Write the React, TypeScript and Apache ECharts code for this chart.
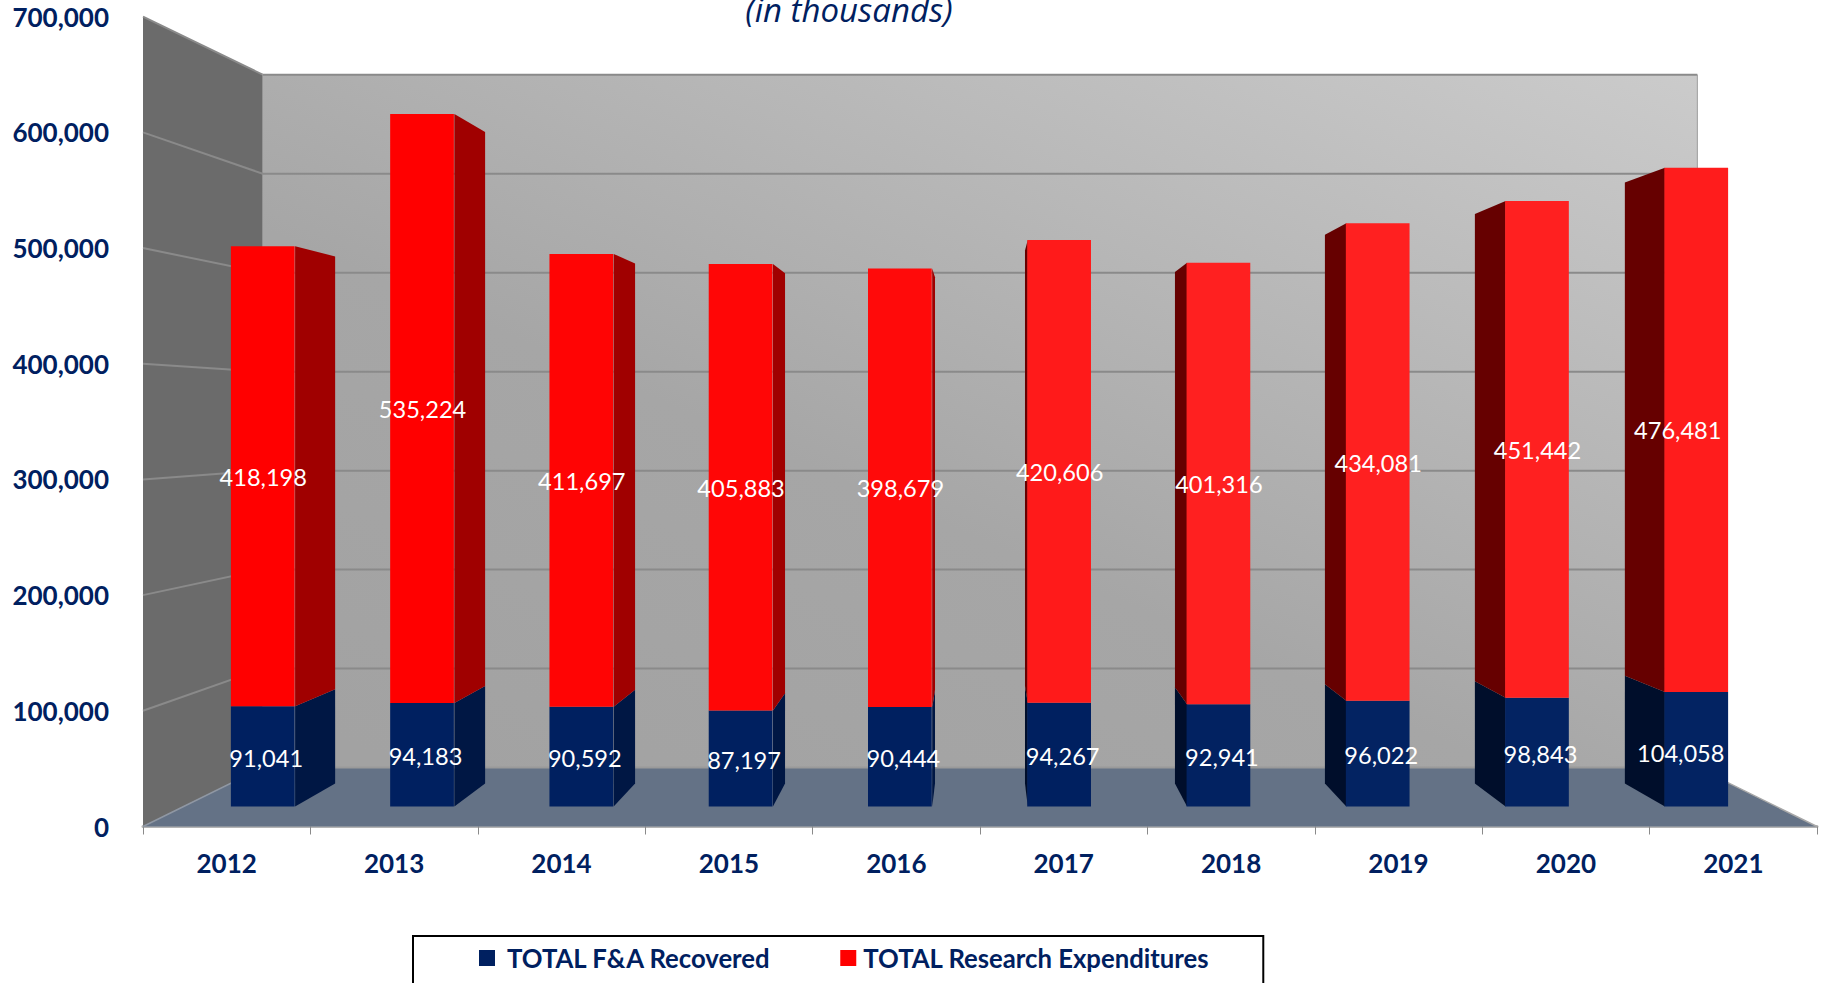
import React, { useEffect, useRef } from "react";
import * as echarts from "echarts";

const years = ["2012", "2013", "2014", "2015", "2016", "2017", "2018", "2019", "2020", "2021"];
const recovered = [91041, 94183, 90592, 87197, 90444, 94267, 92941, 96022, 98843, 104058];
const expenditures = [418198, 535224, 411697, 405883, 398679, 420606, 401316, 434081, 451442, 476481];
const valueTicks = [100000, 200000, 300000, 400000, 500000, 600000, 700000];
const recoveredName = "TOTAL F&A Recovered";
const expendituresName = "TOTAL Research Expenditures";

const NAVY = "#002060";
const RED = "#ff0000";
const FONT = "Lato, 'Open Sans', sans-serif";

// Perspective of the 3D box: a point of the front plane is pulled to the vanishing point by a scale.
const VANISH_X = 980;
const VANISH_Y = 418.4;
const BACK_SCALE = 0.8556;
const BAR_FRONT_SCALE = 0.951;
const BAR_BACK_SCALE = 0.8948;
const X_SCALE_FACTOR = 0.99;
const BAR_WIDTH_RATIO = 0.4;

const project = (x: number, y: number, s: number) => [
  VANISH_X + (x - VANISH_X) * (1 - (1 - s) * X_SCALE_FACTOR),
  VANISH_Y + (y - VANISH_Y) * s,
];

function renderWalls(params: any, api: any) {
  const c = params.coordSys;
  const yAt = (v: number) => api.coord([0, v])[1];
  const left = c.x;
  const right = c.x + c.width;
  const top = yAt(700000);
  const base = yAt(0);
  const children: any[] = [];
  const line = (a: number[], b: number[], stroke: string, lineWidth: number) => ({
    type: "line",
    shape: { x1: a[0], y1: a[1], x2: b[0], y2: b[1] },
    style: { stroke, lineWidth },
  });
  children.push({
    type: "polygon",
    shape: { points: [project(left, top, BACK_SCALE), project(right, top, BACK_SCALE), project(right, base, BACK_SCALE), project(left, base, BACK_SCALE)] },
    style: {
      fill: new echarts.graphic.LinearGradient(1, 0, 0.1, 1, [
        { offset: 0, color: "#cbcbcb" },
        { offset: 0.62, color: "#a6a6a6" },
        { offset: 1, color: "#a2a2a2" },
      ]),
    },
  });
  children.push({
    type: "polygon",
    shape: { points: [[left, top], project(left, top, BACK_SCALE), project(left, base, BACK_SCALE), [left, base]] },
    style: { fill: "#6b6b6b" },
  });
  children.push({
    type: "polygon",
    shape: { points: [[left, base], project(left, base, BACK_SCALE), project(right, base, BACK_SCALE), [right, base]] },
    style: { fill: "#647286" },
  });
  for (const v of valueTicks) {
    const y = yAt(v);
    children.push(line([left, y], project(left, y, BACK_SCALE), "#8a8a8a", 2));
    children.push(line(project(left, y, BACK_SCALE), project(right, y, BACK_SCALE), "#8a8a8a", 2));
  }
  children.push(line(project(left, base, BACK_SCALE), project(right, base, BACK_SCALE), "#9a9a9a", 2));
  children.push(line([left, base], project(left, base, BACK_SCALE), "#8f97a3", 1.5));
  children.push(line([right, base], project(right, base, BACK_SCALE), "#a8a8a8", 1.5));
  children.push(line(project(right, top, BACK_SCALE), project(right, base, BACK_SCALE), "#9c9c9c", 1));
  return { type: "group", children };
}

const makeBarRenderer =
  (front: (i: number) => string, sideRight: string, sideLeft: string, nudgeX: number, nudgeY: (i: number) => number) =>
  (params: any, api: any) => {
    const i = api.value(0);
    const from = api.value(1);
    const to = api.value(2);
    const center = api.coord([i, to])[0];
    const half = (api.size([1, 0])[0] * BAR_WIDTH_RATIO) / 2;
    const yFrom = api.coord([i, from])[1];
    const yTo = api.coord([i, to])[1];
    const xl = center - half;
    const xr = center + half;
    const children: any[] = [];
    const sideX = xr < VANISH_X ? xr : xl;
    children.push({
      type: "polygon",
      shape: {
        points: [
          project(sideX, yTo, BAR_FRONT_SCALE),
          project(sideX, yTo, BAR_BACK_SCALE),
          project(sideX, yFrom, BAR_BACK_SCALE),
          project(sideX, yFrom, BAR_FRONT_SCALE),
        ],
      },
      style: { fill: xr < VANISH_X ? sideRight : sideLeft },
    });
    const tl = project(xl, yTo, BAR_FRONT_SCALE);
    const br = project(xr, yFrom, BAR_FRONT_SCALE);
    children.push({
      type: "rect",
      shape: { x: tl[0] - 0.5, y: tl[1], width: br[0] - tl[0], height: br[1] - tl[1] },
      style: { fill: front(i) },
    });
    const shift = i === years.length - 1 ? -19 : 0;
    children.push({
      type: "text",
      x: (tl[0] + br[0]) / 2 + shift + nudgeX,
      y: (tl[1] + br[1]) / 2 + nudgeY(i),
      style: {
        text: (to - from).toLocaleString("en-US"),
        fill: "#ffffff",
        font: `400 23.6px ${FONT}`,
        align: "center",
        verticalAlign: "middle",
      },
    });
    return { type: "group", children };
  };

const redFront = (i: number) => ["#ff0000", "#ff0000", "#ff0404", "#ff0606", "#ff0a0a", "#ff1a1a", "#ff2020", "#ff2020", "#ff2020", "#ff1c1c"][i];
const navyFront = (i: number) => ["#002060", "#002060", "#002060", "#002060", "#002060", "#002060", "#022261", "#032362", "#032362", "#032362"][i];

export default function App() {
  const ref = useRef<HTMLDivElement>(null);
  useEffect(() => {
    document.body.style.margin = "0";
    const chart = echarts.init(ref.current!, undefined, { renderer: "svg" });
    chart.setOption({
      animation: false,
      backgroundColor: "#ffffff",
      title: {
        text: "(in thousands)",
        left: 844,
        textAlign: "center",
        top: -12,
        textStyle: { color: NAVY, fontFamily: "'Open Sans', sans-serif", fontStyle: "italic", fontWeight: 400, fontSize: 33 },
      },
      grid: { left: 143, right: 9, top: 16.7, bottom: 156.5, containLabel: false },
      xAxis: {
        type: "category",
        data: years,
        boundaryGap: true,
        axisLine: { show: true, lineStyle: { color: "#b4b4b4", width: 3 } },
        axisTick: { show: true, length: 8, alignWithLabel: false, lineStyle: { color: "#8a8a8a", width: 1 } },
        axisLabel: { color: NAVY, fontFamily: FONT, fontWeight: 700, fontSize: 26, margin: 23, interval: 0 },
        splitLine: { show: false },
      },
      yAxis: {
        type: "value",
        min: 0,
        max: 700000,
        interval: 100000,
        axisLine: { show: false },
        axisTick: { show: false },
        splitLine: { show: false },
        axisLabel: {
          color: NAVY,
          fontFamily: FONT,
          fontWeight: 700,
          fontSize: 26,
          margin: 34,
          formatter: (v: number) => v.toLocaleString("en-US"),
        },
      },
      legend: {
        show: true,
        left: 413,
        top: 936,
        orient: "horizontal",
        icon: "rect",
        selectedMode: false,
        itemWidth: 16,
        itemHeight: 16,
        itemGap: 69,
        padding: [9, 54, 60, 66],
        borderColor: "#000000",
        borderWidth: 2,
        backgroundColor: "#ffffff",
        textStyle: { color: NAVY, fontFamily: FONT, fontWeight: 700, fontSize: 25.7 },
        data: [
          { name: recoveredName, textStyle: { padding: [0, 0, 0, 7] } },
          { name: expendituresName, textStyle: { padding: [0, 0, 0, 2] } },
        ],
      },
      tooltip: { show: false },
      series: [
        {
          type: "custom",
          name: "walls",
          silent: true,
          clip: false,
          z: 1,
          encode: { x: 0, y: 1 },
          data: [[0, 0]],
          renderItem: renderWalls,
        },
        {
          type: "custom",
          name: recoveredName,
          silent: true,
          clip: false,
          z: 2,
          itemStyle: { color: NAVY },
          encode: { x: 0, y: [1, 2] },
          data: years.map((_, i) => [i, 0, recovered[i]]),
          renderItem: makeBarRenderer(navyFront, "#001744", "#000e2b", 3, (i) => (i === years.length - 1 ? 4 : 1.5)),
        },
        {
          type: "custom",
          name: expendituresName,
          silent: true,
          clip: false,
          z: 3,
          itemStyle: { color: RED },
          encode: { x: 0, y: [1, 2] },
          data: years.map((_, i) => [i, recovered[i], recovered[i] + expenditures[i]]),
          renderItem: makeBarRenderer(redFront, "#a00000", "#660000", 0, () => 0.5),
        },
      ],
    });
    return () => chart.dispose();
  }, []);
  return <div ref={ref} style={{ width: 1826, height: 983 }} />;
}
